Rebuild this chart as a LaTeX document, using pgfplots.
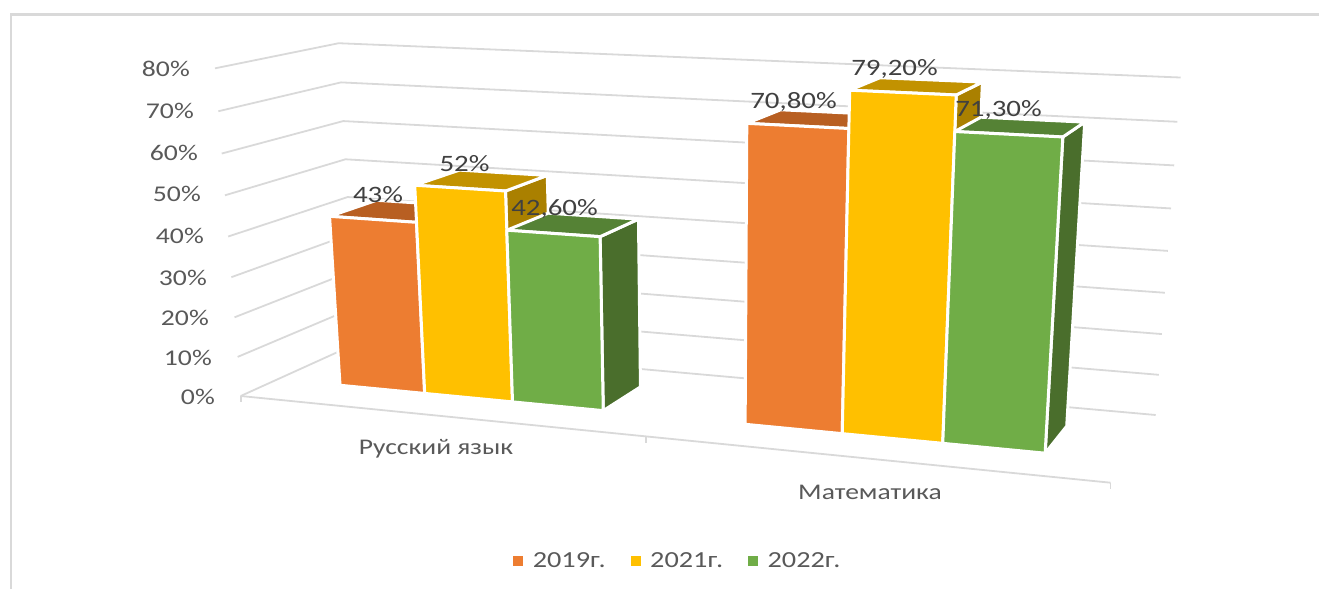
\documentclass[border=0pt]{standalone}
\usepackage{pgfplots}
\usepackage{pgfplotstable}
\pgfplotsset{compat=1.18}
\usepackage{fontspec}
\setmainfont{Carlito}[FakeStretch=1.23]
\definecolor{oF}{HTML}{ED7D31}\definecolor{oT}{HTML}{B85F22}\definecolor{oS}{HTML}{A9561C}
\definecolor{yF}{HTML}{FFC000}\definecolor{yT}{HTML}{C29200}\definecolor{yS}{HTML}{AA8000}
\definecolor{gF}{HTML}{70AD47}\definecolor{gT}{HTML}{558235}\definecolor{gS}{HTML}{4A6E2C}
\definecolor{gridc}{HTML}{D9D9D9}\definecolor{tickc}{HTML}{595959}\definecolor{labc}{HTML}{404040}
% values per series: bar edges along the category axis (0..1) and the value in percent
\pgfplotstableread{
x0 x1 val
.083 .1930 43
.5836 .6945 70.8
}\seriesA
\pgfplotstableread{
x0 x1 val
.1930 .3040 52
.6945 .8060 79.2
}\seriesB
\pgfplotstableread{
x0 x1 val
.3040 .4155 42.6
.8060 .9162 71.3
}\seriesC
\pgfplotstableread{
a b h
0 0 0
1 0 0
1 0 1
0 0 1
0 0 0
}\faceFront
\pgfplotstableread{
a b h
0 0 1
1 0 1
1 1 1
0 1 1
0 0 1
}\faceTop
\pgfplotstableread{
a b h
1 0 0
1 1 0
1 1 1
1 0 1
1 0 0
}\faceSide
\pgfplotstableread{
X Y
0 0
0 1
1 1
}\wallLine
\pgfplotstableread{
X Y
0 0
1 0
}\frontLine
\def\Yf{.30}\def\Yb{.71}
\newcommand\oneface[2]{%
  \addplot[fill=#2,draw=white,line width=3pt,line join=round,forget plot] table[
    x expr={pu(\Xa+\thisrow{a}*(\Xb-\Xa),\Yf+\thisrow{b}*(\Yb-\Yf),\thisrow{h}*\Hv)},
    y expr={pv(\Xa+\thisrow{a}*(\Xb-\Xa),\Yf+\thisrow{b}*(\Yb-\Yf),\thisrow{h}*\Hv)}]{#1};}
\newcommand\drawbar[5]{%
  \pgfplotstablegetelem{#1}{x0}\of{#2}\let\Xa\pgfplotsretval
  \pgfplotstablegetelem{#1}{x1}\of{#2}\let\Xb\pgfplotsretval
  \pgfplotstablegetelem{#1}{val}\of{#2}\let\Hv\pgfplotsretval
  \oneface{\faceSide}{#5}\oneface{\faceTop}{#4}\oneface{\faceFront}{#3}}
\begin{document}
\begin{tikzpicture}
\path[use as bounding box] (0,0) rectangle (1319pt,589pt);
\begin{axis}[at={(0,0)},anchor=south west,scale only axis,width=1319pt,height=589pt,
  xmin=0,xmax=1319,ymin=0,ymax=589,y dir=reverse,hide axis,clip=false,
  declare function={
    pu(\X,\Y,\Z)=(240.7+730.33*\X+149.51*\Y-.46*\Z)/(1-.12563*\X+.09517*\Y-.000646*\Z);
    pv(\X,\Y,\Z)=(396+26.06*\X-19.70*\Y-4.14*\Z)/(1-.12563*\X+.09517*\Y-.000646*\Z);},
  legend style={at={(0.514,0.0475)},anchor=center,legend columns=3,draw=none,fill=none,
    font=\fontsize{23}{25}\selectfont,text=tickc,
    /tikz/every odd column/.append style={column sep=8pt},
    /tikz/every even column/.append style={column sep=23pt}},
  legend cell align=left]
% frame
\draw[gridc,line width=2.5pt] (axis cs:1319,14.5)--(axis cs:11,14.5)--(axis cs:11,589);
% walls
\pgfplotsinvokeforeach{0,10,20,30,40,50,60,70,80}{
  \addplot[gridc,line width=1.8pt,forget plot] table[x expr={pu(\thisrow{X},\thisrow{Y},#1)},y expr={pv(\thisrow{X},\thisrow{Y},#1)}]{\wallLine};
}
\addplot[gridc,line width=1.8pt,forget plot] table[x expr={pu(\thisrow{X},\thisrow{Y},0)},y expr={pv(\thisrow{X},\thisrow{Y},0)}]{\frontLine};
% category ticks
\addplot[gridc,line width=1.8pt,forget plot] coordinates {(240.7,396) (240.7,402)};
\addplot[gridc,line width=1.8pt,forget plot] coordinates {(646,437) (646,443)};
\addplot[gridc,line width=1.8pt,forget plot] coordinates {(1110.5,482.7) (1110.5,488.5)};
% bars
\drawbar{0}{\seriesA}{oF}{oT}{oS}
\drawbar{0}{\seriesB}{yF}{yT}{yS}
\drawbar{0}{\seriesC}{gF}{gT}{gS}
\drawbar{1}{\seriesA}{oF}{oT}{oS}
\drawbar{1}{\seriesB}{yF}{yT}{yS}
\drawbar{1}{\seriesC}{gF}{gT}{gS}
% legend
\addlegendimage{legend image code/.code={\fill[oF] (0pt,-4.5pt) rectangle (9pt,4.5pt);}}
\addlegendentry{2019г.}
\addlegendimage{legend image code/.code={\fill[yF] (0pt,-4.5pt) rectangle (9pt,4.5pt);}}
\addlegendentry{2021г.}
\addlegendimage{legend image code/.code={\fill[gF] (0pt,-4.5pt) rectangle (9pt,4.5pt);}}
\addlegendentry{2022г.}
% tick labels
\begin{scope}[every node/.style={font=\fontsize{22.5}{25}\selectfont,text=tickc,inner sep=0pt}]
\node[anchor=east] at (axis cs:190,69) {80\%};
\node[anchor=east] at (axis cs:194,111) {70\%};
\node[anchor=east] at (axis cs:198,153) {60\%};
\node[anchor=east] at (axis cs:201,194) {50\%};
\node[anchor=east] at (axis cs:204,236) {40\%};
\node[anchor=east] at (axis cs:207,278) {30\%};
\node[anchor=east] at (axis cs:209,318) {20\%};
\node[anchor=east] at (axis cs:212,358) {10\%};
\node[anchor=east] at (axis cs:215,397) {0\%};
\end{scope}
\begin{scope}[every node/.style={font=\fontsize{22.4}{25}\selectfont,text=tickc,inner sep=0pt}]
\node at (axis cs:436,449) {Русский язык};
\node at (axis cs:870,492) {Математика};
\end{scope}
\begin{scope}[every node/.style={font=\fontsize{23.5}{25}\selectfont,text=labc,inner sep=0pt}]
\node at (axis cs:378,195) {43\%};
\node at (axis cs:464.5,164) {52\%};
\node at (axis cs:554.5,208.5) {42,60\%};
\node at (axis cs:793.5,102) {70,80\%};
\node at (axis cs:894.5,69) {79,20\%};
\node at (axis cs:998.5,110) {71,30\%};
\end{scope}
\end{axis}
\end{tikzpicture}
\end{document}
